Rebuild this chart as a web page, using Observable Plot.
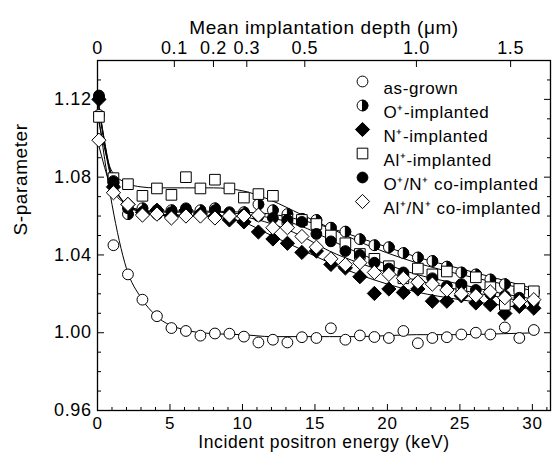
<!DOCTYPE html>
<html><head><meta charset="utf-8">
<script src="https://cdn.jsdelivr.net/npm/d3@7"></script>
<script src="https://cdn.jsdelivr.net/npm/@observablehq/plot@0.6"></script>
<style>body{margin:0;background:#fff}</style>
</head><body><div id="chart"></div>
<script>
// Incident positron energies (keV)
const energy = [0.1,1.1,2.1,3.1,4.1,5.1,6.1,7.1,8.1,9.1,10.1,11.1,12.1,13.1,14.1,15.1,16.1,17.1,18.1,19.1,20.1,21.1,22.1,23.1,24.1,25.1,26.1,27.1,28.1,29.1,30.1];
const sAsGrown = [1.112,1.045,1.030,1.017,1.0085,1.0024,1.0009,0.9985,0.9996,0.9995,0.998,0.995,0.9964,0.995,0.9977,0.9973,1.0023,0.9964,0.9986,0.9978,0.9973,1.0009,0.9946,0.9973,0.9977,0.9991,1.0,0.9991,1.0027,0.9973,1.0014];
const sO = [1.121,1.077,1.061,1.064,1.061,1.063,1.062,1.063,1.064,1.061,1.062,1.066,1.063,1.061,1.0586,1.058,1.054,1.052,1.0481,1.045,1.044,1.041,1.0387,1.0369,1.034,1.031,1.030,1.0274,1.025,1.022,1.021];
const sN = [1.12,1.075,1.066,1.062,1.063,1.060,1.063,1.061,1.060,1.058,1.057,1.0518,1.0482,1.046,1.0413,1.042,1.0351,1.0333,1.0288,1.0202,1.0225,1.0207,1.0225,1.0162,1.0162,1.019,1.0153,1.0144,1.0099,1.0135,1.0126];
const sAl = [1.111,1.0795,1.0764,1.0704,1.0742,1.0709,1.080,1.0742,1.0787,1.0742,1.0695,1.0713,1.0704,1.058,1.058,1.0559,1.050,1.046,1.0405,1.038,1.0342,1.028,1.033,1.030,1.0315,1.0234,1.0285,1.0234,1.0144,1.0225,1.0213];
const sON = [1.122,1.078,1.064,1.062,1.063,1.062,1.064,1.061,1.063,1.062,1.061,1.060,1.059,1.058,1.057,1.0508,1.047,1.042,1.040,1.036,1.033,1.031,1.026,1.028,1.024,1.025,1.022,1.020,1.019,1.018,1.016];
const sAlN = [1.099,1.072,1.066,1.0605,1.061,1.059,1.060,1.060,1.059,1.060,1.060,1.0605,1.054,1.054,1.0495,1.044,1.038,1.035,1.036,1.031,1.030,1.028,1.026,1.025,1.022,1.020,1.019,1.021,1.018,1.016,1.017];

// fitted curves
const fitEnergy = [0,1,2,3,4,6,8,10,12,14,16,18,20,22,25,28,30.4];
const fitAsGrown = [1.115,1.066,1.033,1.018,1.009,1.0015,0.9995,0.999,0.998,0.998,0.998,0.998,0.9985,0.999,0.999,0.9995,1.0];
const fitO = [1.121,1.08,1.066,1.063,1.0625,1.0625,1.0625,1.062,1.061,1.058,1.054,1.049,1.044,1.039,1.033,1.027,1.022];
const fitN = [1.12,1.078,1.066,1.062,1.061,1.0605,1.0595,1.057,1.050,1.043,1.036,1.030,1.025,1.021,1.017,1.014,1.012];
const fitAl = [1.112,1.083,1.077,1.075,1.0745,1.0745,1.0745,1.073,1.068,1.061,1.054,1.047,1.041,1.036,1.030,1.025,1.021];
const fitON = [1.122,1.079,1.066,1.063,1.062,1.062,1.062,1.061,1.059,1.055,1.048,1.041,1.035,1.030,1.025,1.020,1.017];
const fitAlN = [1.099,1.074,1.066,1.062,1.0605,1.060,1.060,1.0595,1.056,1.050,1.042,1.036,1.031,1.027,1.022,1.018,1.015];

const seriesNames = ["as-grown","O\u207A-implanted","N\u207A-implanted","Al\u207A-implanted","O\u207A/N\u207A co-implanted","Al\u207A/N\u207A co-implanted"];

const xTicks = [0,5,10,15,20,25,30];
const xMinorTicks = [1,2,3,4,6,7,8,9,11,12,13,14,16,17,18,19,21,22,23,24,26,27,28,29,31];
const yTicks = [0.96,1.00,1.04,1.08,1.12];
const yMinorTicks = [0.97,0.98,0.99,1.01,1.02,1.03,1.05,1.06,1.07,1.09,1.10,1.11,1.13];
const depthLabels = ["0","0.1","0.2","0.3","0.5","1.0","1.5"];
const depthTickEnergy = [0,5.3,8.0,10.3,14.3,22.0,28.5];

const halfRight = {draw(ctx, size){const r=Math.sqrt(size/Math.PI); ctx.moveTo(0,-r); ctx.arc(0,0,r,-Math.PI/2,Math.PI/2); ctx.closePath();}};

const pts = arr => energy.map((e,i)=>({e, s: arr[i]}));
const fit = arr => fitEnergy.map((e,i)=>({e, s: arr[i]}));

const styles = [
  [{symbol:"circle", r:5.4, fill:"white", stroke:"black"}],
  [{symbol:"circle", r:5.4, fill:"white", stroke:"black"},{symbol:halfRight, r:5.4, fill:"black", stroke:"black"}],
  [{symbol:"diamond2", r:6.4, fill:"black", stroke:"black"}],
  [{symbol:"square", r:6.0, fill:"white", stroke:"black"}],
  [{symbol:"circle", r:5.4, fill:"black", stroke:"black"}],
  [{symbol:"diamond2", r:6.4, fill:"white", stroke:"black"}]
];
const seriesData = [sAsGrown, sO, sN, sAl, sON, sAlN];
const fitData = [fitAsGrown, fitO, fitN, fitAl, fitON, fitAlN];

const marks = [];
marks.push(Plot.frame({stroke:"black", strokeWidth:1.3}));
// tick marks (inward)
marks.push(Plot.axisY({anchor:"left", ticks:yTicks, tickSize:-7, tickFormat:()=>"", label:null}));
marks.push(Plot.axisY({anchor:"left", ticks:yMinorTicks, tickSize:-4, tickFormat:()=>"", label:null}));
marks.push(Plot.axisY({anchor:"right", ticks:yTicks, tickSize:-7, tickFormat:()=>"", label:null}));
marks.push(Plot.axisY({anchor:"right", ticks:yMinorTicks, tickSize:-4, tickFormat:()=>"", label:null}));
marks.push(Plot.axisX({anchor:"bottom", ticks:xTicks, tickSize:-6, tickFormat:()=>"", label:null}));
marks.push(Plot.axisX({anchor:"bottom", ticks:xMinorTicks, tickSize:-3, tickFormat:()=>"", label:null}));
marks.push(Plot.axisX({anchor:"top", ticks:depthTickEnergy, tickSize:-6, tickFormat:()=>"", label:null}));
// tick labels
marks.push(Plot.axisY({anchor:"left", ticks:yTicks, tickSize:0, tickPadding:6, tickFormat:d3.format(".2f"), label:null}));
marks.push(Plot.axisX({anchor:"bottom", ticks:xTicks, tickSize:0, tickPadding:6, fontSize:17, tickFormat:d=>String(d), label:null}));
marks.push(Plot.axisX({anchor:"top", ticks:depthTickEnergy, tickSize:0, tickPadding:7, tickFormat:(d,i)=>depthLabels[i], label:null}));
// axis titles
marks.push(Plot.text(["Incident positron energy (keV)"], {frameAnchor:"bottom", dy:37.4, fontSize:17.5, text:d=>d}));
marks.push(Plot.text(["Mean implantation depth (\u03BCm)"], {frameAnchor:"top", dy:-40, fontSize:19, text:d=>d}));
marks.push(Plot.text(["S-parameter"], {frameAnchor:"left", dx:-77, rotate:-90, fontSize:19, text:d=>d}));
// fit lines
fitData.forEach(f => marks.push(Plot.line(fit(f), {x:"e", y:"s", curve:"monotone-x", stroke:"black", strokeWidth:1})));
// data points
seriesData.forEach((arr, k) => styles[k].forEach(st => marks.push(Plot.dot(pts(arr), {x:"e", y:"s", strokeWidth:1, ...st}))));
// legend
seriesNames.forEach((name, k) => {
  const dy = 21 + k*24;
  styles[k].forEach(st => marks.push(Plot.dot([name], {frameAnchor:"top-left", dx:265, dy, strokeWidth:1, ...st})));
  marks.push(Plot.text([name], {frameAnchor:"top-left", dx:286, dy, textAnchor:"start", fontSize:17, text:d=>d}));
});

const chart = Plot.plot({
  width:553, height:456,
  marginLeft:97, marginRight:3, marginTop:60, marginBottom:46,
  x:{domain:[0,31.25]},
  y:{domain:[0.96,1.14]},
  style:{fontFamily:"'Liberation Sans', Arial, Helvetica, sans-serif", fontSize:"18px", color:"black", background:"white", letterSpacing:"0.6px"},
  marks
});
document.getElementById("chart").append(chart);
</script>
</body></html>
